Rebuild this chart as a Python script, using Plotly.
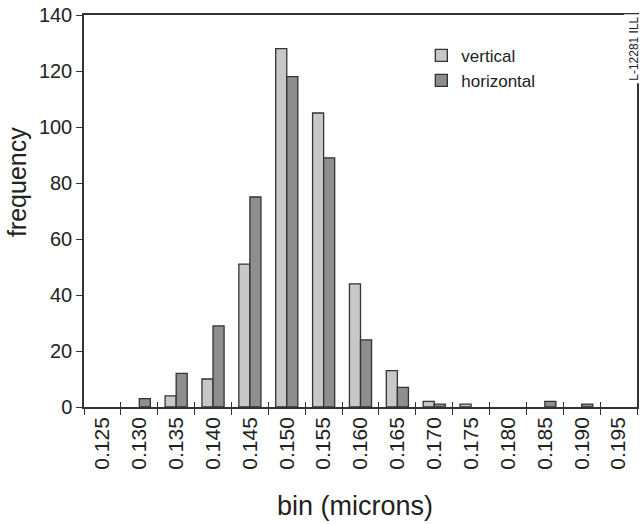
import plotly.graph_objects as go

bins = ["0.125", "0.130", "0.135", "0.140", "0.145", "0.150", "0.155", "0.160",
        "0.165", "0.170", "0.175", "0.180", "0.185", "0.190", "0.195"]
vertical = [0, 0, 4, 10, 51, 128, 105, 44, 13, 2, 1, 0, 0, 0, 0]
horizontal = [0, 3, 12, 29, 75, 118, 89, 24, 7, 1, 0, 0, 2, 1, 0]
y_ticks = [0, 20, 40, 60, 80, 100, 120, 140]

FONT = "Liberation Sans, Arial, Helvetica, sans-serif"
TXT = "#222222"
EDGE = "#333333"


def shown(values):
    # empty bins draw no bar at all in the reference
    return [v if v else None for v in values]


fig = go.Figure()
fig.add_trace(go.Bar(x=bins, y=shown(vertical), name="vertical",
                     marker=dict(color="#c8c8c8", line=dict(color=EDGE, width=1.3))))
fig.add_trace(go.Bar(x=bins, y=shown(horizontal), name="horizontal",
                     marker=dict(color="#8e8e8e", line=dict(color=EDGE, width=1.3))))
# invisible helper trace for the inner half of the crossing x ticks
fig.add_trace(go.Scatter(x=bins, y=[0] * len(bins), xaxis="x2", mode="markers",
                         marker=dict(opacity=0), showlegend=False, hoverinfo="skip"))

fig.update_layout(
    width=641, height=524,
    margin=dict(l=84, r=4, t=15, b=117, autoexpand=False),
    paper_bgcolor="white", plot_bgcolor="white",
    font=dict(family=FONT, color=TXT),
    barmode="group", bargap=0.4, bargroupgap=0,
    showlegend=True,
    legend=dict(x=0.61, y=0.942, xanchor="left", yanchor="top",
                font=dict(size=17, color=TXT), bgcolor="rgba(0,0,0,0)",
                tracegroupgap=0),
    xaxis=dict(type="category", categoryorder="array", categoryarray=bins,
               range=[-0.5, len(bins) - 0.5], automargin=False,
               showline=True, linecolor=EDGE, linewidth=1.5, mirror=True,
               ticks="outside", ticklen=6, tickwidth=1.3, tickcolor=EDGE,
               tickson="boundaries", tickangle=-90,
               tickfont=dict(size=21, color=TXT), showgrid=False, zeroline=False),
    xaxis2=dict(type="category", categoryorder="array", categoryarray=bins,
                range=[-0.5, len(bins) - 0.5], overlaying="x", side="bottom",
                anchor="y", automargin=False, showline=False, ticks="inside",
                ticklen=5, tickwidth=1.3, tickcolor=EDGE, tickson="boundaries",
                showticklabels=False, showgrid=False, zeroline=False),
    yaxis=dict(range=[0, 140], tickvals=y_ticks, automargin=False,
               showline=True, linecolor=EDGE, linewidth=1.5, mirror=True,
               ticks="outside", ticklen=6, tickwidth=1.3, tickcolor=EDGE,
               tickfont=dict(size=20, color=TXT), showgrid=False, zeroline=False),
)

fig.add_annotation(text="frequency", xref="paper", yref="paper",
                   x=-0.121, y=0.574, textangle=-90, showarrow=False,
                   xanchor="center", yanchor="middle",
                   font=dict(size=25, color=TXT))
fig.add_annotation(text="bin (microns)", xref="paper", yref="paper",
                   x=0.49, y=-0.252, showarrow=False,
                   xanchor="center", yanchor="middle",
                   font=dict(size=27, color=TXT))
fig.add_annotation(text="L-12281 ILL", xref="paper", yref="paper",
                   x=0.994, y=0.913, textangle=-90, showarrow=False,
                   xanchor="center", yanchor="middle",
                   bgcolor="white", borderpad=2,
                   font=dict(size=12, color=TXT))

fig.write_html("out.html", config={"displayModeBar": False},
               post_script="document.body.style.margin='0';document.body.style.padding='0';")
